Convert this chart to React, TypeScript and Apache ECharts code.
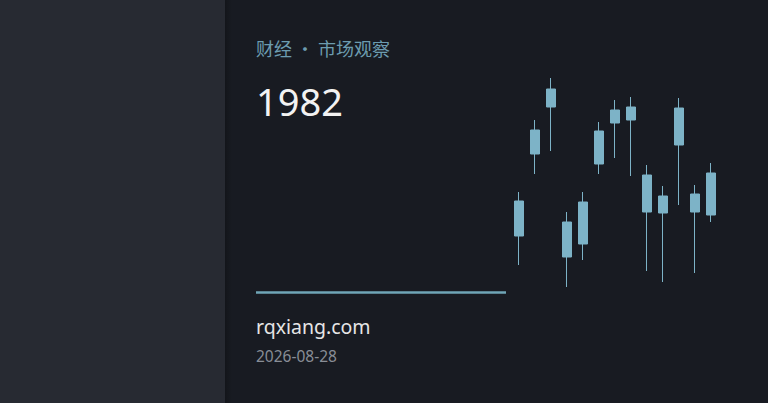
import React, { useEffect, useRef } from "react";
import * as echarts from "echarts";

// Candles: [open, close, low, high]
const categories = ["1", "2", "3", "4", "5", "6", "7", "8", "9", "10", "11", "12", "13"];
const opens = [59, 141, 188, 73, 51, 131, 172, 175, 120, 99, 187, 83, 80];
const closes = [94, 165, 206, 38, 93, 164, 185, 188, 83, 82, 150, 101, 122];
const lows = [30, 121, 144, 8, 35, 121, 137, 119, 24, 13, 90, 22, 73];
const highs = [103, 175, 217, 83, 103, 173, 195, 198, 130, 109, 197, 110, 132];

const titleText = "财经 · 市场观察";
const bigNumber = "1982";
const siteText = "rqxiang.com";
const dateText = "2026-08-28";

export default function App() {
  const ref = useRef<HTMLDivElement>(null);
  useEffect(() => {
    document.body.style.margin = "0";
    const chart = echarts.init(ref.current!, null, { renderer: "svg" });
    const candleColor = "#7db3c7";
    const data = categories.map((_, i) => [opens[i], closes[i], lows[i], highs[i]]);
    chart.setOption({
      animation: false,
      backgroundColor: "#181b22",
      grid: { left: 511, width: 208, top: 75, height: 220 },
      xAxis: {
        type: "category",
        data: categories,
        boundaryGap: true,
        show: false,
      },
      yAxis: { type: "value", min: 0, max: 220, show: false },
      graphic: [
        { type: "rect", shape: { x: 0, y: 0, width: 225, height: 403 }, style: { fill: "#272a32" }, z: -10 },
        {
          type: "rect",
          shape: { x: 225, y: 0, width: 7, height: 403 },
          style: {
            fill: new echarts.graphic.LinearGradient(0, 0, 1, 0, [
              { offset: 0, color: "rgba(0,0,0,0.22)" },
              { offset: 1, color: "rgba(0,0,0,0)" },
            ]),
          },
          z: -10,
        },
        {
          type: "text",
          x: 256,
          y: 48,
          style: {
            text: titleText,
            fill: "#6c9cb0",
            font: '18px "Noto Sans CJK SC", "Noto Sans", sans-serif',
            textVerticalAlign: "middle",
            letterSpacing: 1,
          },
        },
        {
          type: "text",
          x: 256,
          y: 101,
          style: {
            text: bigNumber,
            fill: "#f2f2f2",
            font: '38px "Noto Sans", sans-serif',
            textVerticalAlign: "middle",
          },
        },
        {
          type: "line",
          shape: { x1: 256, y1: 292.5, x2: 506, y2: 292.5 },
          style: { stroke: "#6fa6b7", lineWidth: 2.5 },
        },
        {
          type: "text",
          x: 256,
          y: 326,
          style: {
            text: siteText,
            fill: "#e6e6e6",
            font: '19.5px "Noto Sans", sans-serif',
            textVerticalAlign: "middle",
          },
        },
        {
          type: "text",
          x: 256,
          y: 356,
          style: {
            text: dateText,
            fill: "#888d96",
            font: '15.5px "Noto Sans", sans-serif',
            textVerticalAlign: "middle",
          },
        },
      ],
      series: [
        {
          type: "candlestick",
          data,
          barWidth: 10,
          itemStyle: {
            color: candleColor,
            color0: candleColor,
            borderColor: candleColor,
            borderColor0: candleColor,
            borderWidth: 1,
          },
        },
      ],
    });
    return () => chart.dispose();
  }, []);
  return <div ref={ref} style={{ width: 768, height: 403 }} />;
}
